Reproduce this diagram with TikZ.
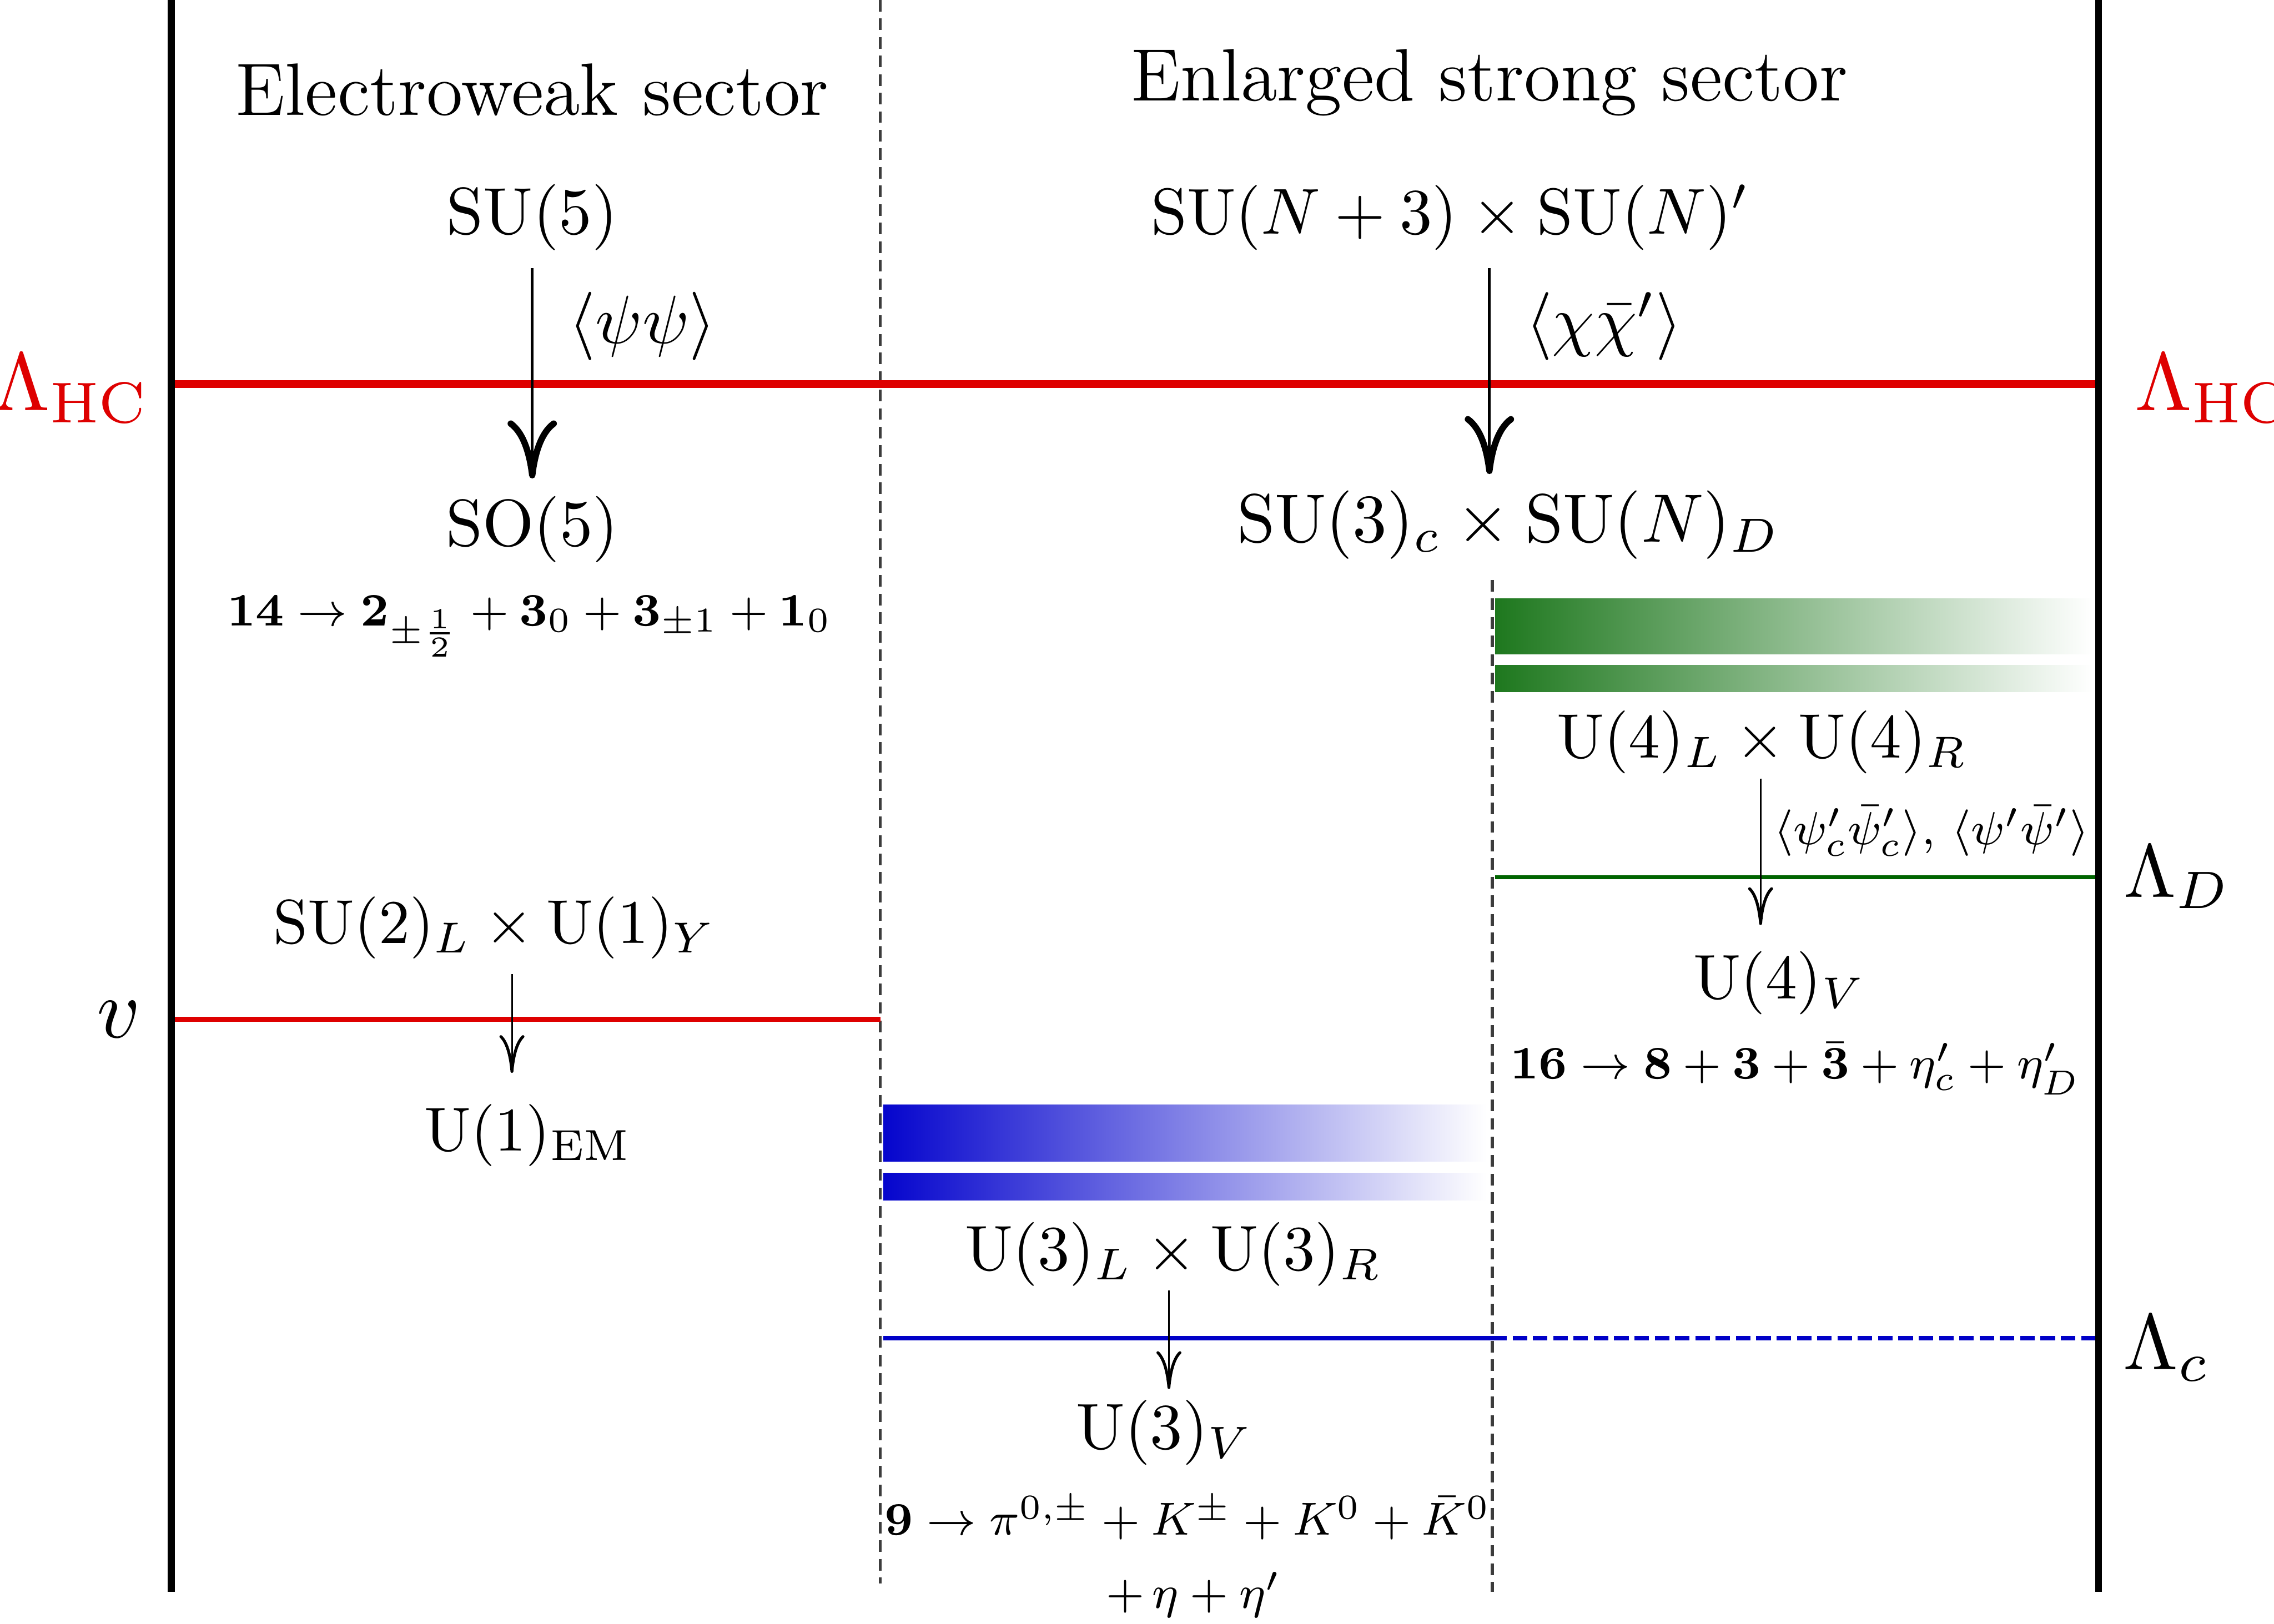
\documentclass[tikz,border=0pt]{standalone}
\usepackage{fix-cm}
\usepackage{amsmath}
\usetikzlibrary{arrows.meta}
\definecolor{hcred}{RGB}{222,0,0}
\definecolor{dgreen}{RGB}{0,100,0}
\definecolor{bargreen}{RGB}{30,120,30}
\definecolor{dblue}{RGB}{0,0,200}
\definecolor{bblue}{RGB}{5,5,205}
\definecolor{dgray}{RGB}{60,60,60}
\begin{document}
\begin{tikzpicture}[x=0.25pt,y=-0.25pt,
  lbl/.style={inner sep=0pt,font=\fontsize{11}{13}\selectfont,scale=#1},
  lbl/.default=1,
  ttl/.style={inner sep=0pt,font=\fontsize{12.8}{14}\selectfont},
  scl/.style={inner sep=0pt,font=\fontsize{11}{13}\selectfont,scale=#1},
  sml/.style={inner sep=0pt,font=\fontsize{8}{10}\selectfont,scale=#1},
  sml/.default=1,
  tny/.style={inner sep=0pt,font=\fontsize{8}{9}\selectfont},
  wall/.style={line width=1.2pt},
  sep/.style={dgray,line width=0.5pt,dash pattern=on 2pt off 1.2pt},
  bigarr/.style={line width=0.5pt,-{Computer Modern Rightarrow[length=10pt,width=8.5pt,line width=1.1pt]}},
  thinarr/.style={line width=0.3pt,-{Computer Modern Rightarrow[length=6.5pt,width=4.3pt,line width=0.5pt]}}]
\useasboundingbox (0,0) rectangle (1568,1120);

% gradient bars
\shade[left color=bargreen,right color=white] (1031,413) rectangle (1443,451);
\shade[left color=bargreen,right color=white] (1031,459) rectangle (1443,477);
\shade[left color=bblue,right color=white] (609,762) rectangle (1025,801);
\shade[left color=bblue,right color=white] (609,809) rectangle (1025,828);

% coordinates
\coordinate (wlT) at (118,0);   \coordinate (wlB) at (118,1098);
\coordinate (wrT) at (1447,0);  \coordinate (wrB) at (1447,1098);
\coordinate (s1T) at (607,0);   \coordinate (s1B) at (607,1092);
\coordinate (s2T) at (1029,400);\coordinate (s2B) at (1029,1098);
\coordinate (hcL) at (118,265); \coordinate (hcR) at (1447,265);
\coordinate (vL) at (118,703);  \coordinate (vR) at (607,703);
\coordinate (dL) at (1031,605); \coordinate (dR) at (1447,605);
\coordinate (cL) at (609,923);  \coordinate (cM) at (1029,923); \coordinate (cR) at (1447,923);

% separators
\draw[sep] (s1T) -- (s1B);
\draw[sep] (s2T) -- (s2B);

% scale lines
\draw[hcred,line width=1.35pt] (hcL) -- (hcR);
\draw[hcred,line width=0.8pt] (vL) -- (vR);
\draw[dgreen,line width=0.6pt] (dL) -- (dR);
\draw[dblue,line width=0.75pt] (cL) -- (cM);
\draw[dblue,line width=0.75pt,dash pattern=on 2.5pt off 1pt] (cM) -- (cR);

% walls
\draw[wall] (wlT) -- (wlB);
\draw[wall] (wrT) -- (wrB);

% titles
\node[ttl] (ew) at (367,62) {Electroweak sector};
\node[ttl] (es) at (1027,57) {Enlarged strong sector};

% left column
\node[lbl=1.036] (su5) at (367,150) {$\mathrm{SU}(5)$};
\node[lbl=1.036] (so5) at (367,365) {$\mathrm{SO}(5)$};
\node[lbl=1.07] (psipsi) at (443,225) {$\langle\psi\psi\rangle$};
\node[sml] (dec14) at (365,432) {$\mathbf{14}\to\mathbf{2}_{\pm\frac{1}{2}}+\mathbf{3}_0+\mathbf{3}_{\pm1}+\mathbf{1}_0$};
\coordinate (a1s) at (367,185); \coordinate (a1e) at (367,330);
\draw[bigarr] (a1s) -- (a1e);

\node[lbl=0.973] (su2) at (341,640) {$\mathrm{SU}(2)_L\times\mathrm{U}(1)_Y$};
\node[lbl=0.973] (u1em) at (364,783) {$\mathrm{U}(1)_{\mathrm{EM}}$};
\coordinate (a2s) at (353,672); \coordinate (a2e) at (353,740);
\draw[thinarr] (a2s) -- (a2e);

% strong column
\node[lbl=1.018] (sun) at (1000,150) {$\mathrm{SU}(N+3)\times\mathrm{SU}(N)'$};
\node[lbl=1.064] (chichi) at (1106,225) {$\langle\chi\bar{\chi}'\rangle$};
\node[lbl=1.073] (su3c) at (1040,362) {$\mathrm{SU}(3)_c\times\mathrm{SU}(N)_D$};
\coordinate (a3s) at (1027,185); \coordinate (a3e) at (1027,327);
\draw[bigarr] (a3s) -- (a3e);

\node[lbl=0.986] (u4lr) at (1215,512) {$\mathrm{U}(4)_L\times\mathrm{U}(4)_R$};
\node[tny] (psic) at (1332,573) {$\langle\psi'_c\bar{\psi}'_c\rangle,\,\langle\psi'\bar{\psi}'\rangle$};
\node[lbl=0.99] (u4v) at (1227,678) {$\mathrm{U}(4)_V$};
\node[sml] (dec16) at (1238,737) {$\mathbf{16}\to\mathbf{8}+\mathbf{3}+\bar{\mathbf{3}}+\eta'_c+\eta'_D$};
\coordinate (a4s) at (1214,537); \coordinate (a4e) at (1214,638);
\draw[thinarr] (a4s) -- (a4e);

\node[lbl=1] (u3lr) at (809,865) {$\mathrm{U}(3)_L\times\mathrm{U}(3)_R$};
\node[lbl=1.018] (u3v) at (803,988) {$\mathrm{U}(3)_V$};
\node[sml] (dec9) at (819,1047) {$\mathbf{9}\to\pi^{0,\pm}+K^{\pm}+K^0+\bar{K}^0$};
\node[sml] (dec9b) at (823,1100) {$+\,\eta+\eta'$};
\coordinate (a5s) at (806,890); \coordinate (a5e) at (806,958);
\draw[thinarr] (a5s) -- (a5e);

% scale labels
\node[scl=1.29,text=hcred] (lhcL) at (49,268) {$\Lambda_{\mathrm{HC}}$};
\node[scl=1.29,text=hcred,anchor=west] (lhcR) at (1471,268) {$\Lambda_{\mathrm{HC}}$};
\node[scl=1.32] (lv) at (82,703) {$v$};
\node[scl=1.18] (lD) at (1501,605) {$\Lambda_D$};
\node[scl=1.24] (lc) at (1494,930) {$\Lambda_c$};
\end{tikzpicture}
\end{document}
